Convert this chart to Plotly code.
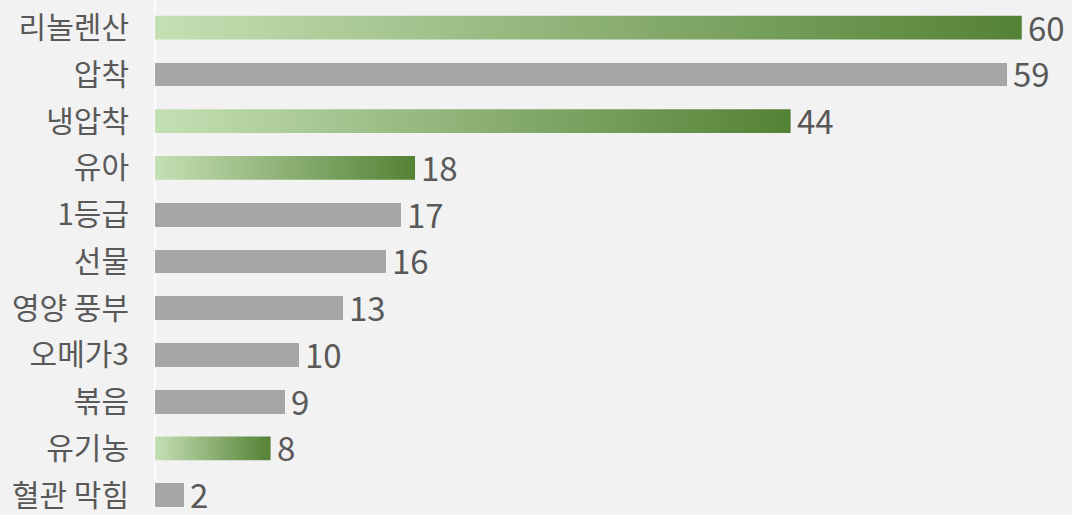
import plotly.graph_objects as go

categories = ["리놀렌산", "압착", "냉압착", "유아", "1등급", "선물", "영양 풍부", "오메가3", "볶음", "유기농", "혈관 막힘"]
values = [60, 59, 44, 18, 17, 16, 13, 10, 9, 8, 2]
highlight = [True, False, True, True, False, False, False, False, False, True, False]

BG = "#f2f2f2"
GRAY = "#a6a6a6"
G_LIGHT = "#c5e0b4"
G_DARK = "#548235"
TXT = "#595959"
BAR_H = 0.507
FONT = "Noto Sans CJK KR"

fig = go.Figure()

idx = list(range(len(categories)))
fig.add_trace(go.Bar(
    y=idx, x=values, orientation="h", width=BAR_H,
    marker=dict(color=[("rgba(0,0,0,0)" if h else GRAY) for h in highlight], line=dict(width=0)),
    hoverinfo="skip", showlegend=False,
))

h2 = BAR_H / 2
for i, (v, h) in enumerate(zip(values, highlight)):
    if not h:
        continue
    fig.add_trace(go.Scatter(
        x=[0, v, v, 0, 0], y=[i - h2, i - h2, i + h2, i + h2, i - h2],
        mode="lines", line=dict(width=0), fill="toself",
        fillgradient=dict(type="horizontal", colorscale=[[0, G_LIGHT], [1, G_DARK]], start=0, stop=v),
        hoverinfo="skip", showlegend=False,
    ))

for i, v in enumerate(values):
    fig.add_annotation(x=v, y=i, text=str(v), showarrow=False, xanchor="left", yanchor="middle",
                       xshift=4, yshift=1, font=dict(family=FONT, size=33, color=TXT))

row_px = 47.3
top_c = 28
plot_h = 515
r0 = -top_c / row_px
r1 = r0 + plot_h / row_px

fig.update_layout(
    width=1072, height=515,
    margin=dict(l=155, r=0, t=0, b=0),
    paper_bgcolor=BG, plot_bgcolor=BG,
    bargap=0,
    xaxis=dict(range=[0, 916 / 14.43], visible=False, fixedrange=True),
    yaxis=dict(range=[r1, r0], tickvals=idx, ticktext=categories,
               showgrid=False, zeroline=False, showline=False,
               ticks="outside", ticklen=19, tickcolor=BG,
               ticklabeloverflow="allow",
               tickfont=dict(family=FONT, size=30, color=TXT)),
    shapes=[dict(type="line", xref="paper", yref="paper", x0=0, x1=0, y0=0, y1=1,
                 line=dict(color="#ffffff", width=1.5), layer="below")],
)

fig.write_html("out.html")
